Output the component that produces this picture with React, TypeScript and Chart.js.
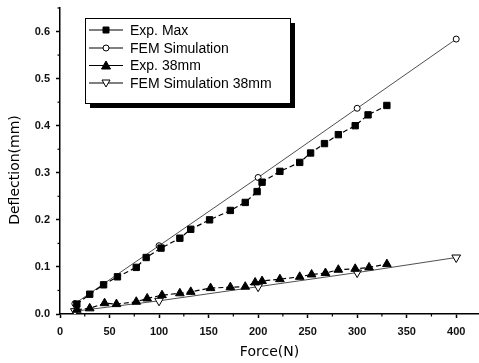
import React, { useEffect, useRef } from "react";
import { Chart, registerables } from "chart.js";

Chart.register(...registerables);

const forceExpMax = [17, 30, 44, 58, 77, 87, 102, 121, 132, 151, 172, 187, 199, 204, 222, 242, 253, 267, 281, 298, 311, 330];
const deflExpMax = [0.021, 0.042, 0.062, 0.079, 0.099, 0.12, 0.14, 0.161, 0.18, 0.2, 0.22, 0.237, 0.26, 0.28, 0.303, 0.322, 0.342, 0.362, 0.381, 0.4, 0.423, 0.443];

const forceFem = [15, 100, 200, 300, 400];
const deflFem = [0.022, 0.145, 0.29, 0.437, 0.584];

const forceExp38 = [17, 30, 45, 57, 77, 88, 103, 121, 132, 152, 172, 187, 197, 204, 222, 242, 254, 268, 281, 298, 312, 330];
const deflExp38 = [0.009, 0.012, 0.023, 0.021, 0.026, 0.033, 0.04, 0.044, 0.047, 0.055, 0.057, 0.058, 0.067, 0.07, 0.074, 0.079, 0.084, 0.087, 0.094, 0.096, 0.099, 0.106];

const forceFem38 = [15, 100, 200, 300, 400];
const deflFem38 = [0.006, 0.028, 0.058, 0.088, 0.12];

const seriesLabels = ["Exp. Max", "FEM Simulation", "Exp. 38mm", "FEM Simulation 38mm"];
const xTitle = "Force(N)";
const yTitle = "Deflection(mm)";
const xTicks = [0, 50, 100, 150, 200, 250, 300, 350, 400];
const yTicks = [0, 0.1, 0.2, 0.3, 0.4, 0.5, 0.6];
const xMinorTicks = [25, 75, 125, 175, 225, 275, 325, 375, 425];
const yMinorTicks = [0.05, 0.15, 0.25, 0.35, 0.45, 0.55, 0.65];

const pts = (xs: number[], ys: number[]) => xs.map((x, i) => ({ x, y: ys[i] }));

function drawMarker(ctx: CanvasRenderingContext2D, style: string, x: number, y: number, fill: string) {
  ctx.save();
  ctx.lineWidth = 1;
  ctx.strokeStyle = "#000";
  ctx.fillStyle = fill;
  ctx.beginPath();
  if (style === "rect") {
    ctx.rect(x - 3, y - 3, 6, 6);
  } else if (style === "circle") {
    ctx.arc(x, y, 3, 0, Math.PI * 2);
  } else if (style === "triangle") {
    ctx.moveTo(x, y - 4.5);
    ctx.lineTo(x + 4.5, y + 3.5);
    ctx.lineTo(x - 4.5, y + 3.5);
    ctx.closePath();
  } else {
    ctx.moveTo(x, y + 4);
    ctx.lineTo(x + 4, y - 3);
    ctx.lineTo(x - 4, y - 3);
    ctx.closePath();
  }
  ctx.fill();
  ctx.stroke();
  ctx.restore();
}

const legendStyles = [
  { style: "rect", fill: "#000" },
  { style: "circle", fill: "#fff" },
  { style: "triangle", fill: "#000" },
  { style: "down", fill: "#fff" },
];

const titleFontCss = "14px 'DejaVu Sans', sans-serif";

const customPlugin = {
  id: "custom",
  afterDraw(chart: any) {
    const ctx: CanvasRenderingContext2D = chart.ctx;
    const xs = chart.scales.x;
    const ys = chart.scales.y;
    ctx.save();
    ctx.strokeStyle = "#000";
    ctx.lineWidth = 1.2;
    xMinorTicks.forEach((v) => {
      if (v > xs.max) return;
      const px = xs.getPixelForValue(v);
      ctx.beginPath();
      ctx.moveTo(px, ys.bottom);
      ctx.lineTo(px, ys.bottom + 2.5);
      ctx.stroke();
    });
    yMinorTicks.forEach((v) => {
      if (v > ys.max) return;
      const py = ys.getPixelForValue(v);
      ctx.beginPath();
      ctx.moveTo(xs.left, py);
      ctx.lineTo(xs.left - 2.5, py);
      ctx.stroke();
    });
    // y axis title
    ctx.save();
    ctx.translate(15, 170);
    ctx.rotate(-Math.PI / 2);
    ctx.font = titleFontCss;
    ctx.fillStyle = "#000";
    ctx.textAlign = "center";
    ctx.textBaseline = "middle";
    ctx.fillText(yTitle, 0, 0);
    ctx.restore();
    // legend box
    const bx = 85, by = 18, bw = 205, bh = 85;
    ctx.fillStyle = "#fff";
    ctx.fillRect(bx, by, bw, bh);
    ctx.fillStyle = "#000";
    ctx.fillRect(bx + 5, by + bh, bw, 5);
    ctx.fillRect(bx + bw, by + 5, 5, bh);
    ctx.lineWidth = 1;
    ctx.strokeRect(bx + 0.5, by + 0.5, bw, bh);
    const rows = [30, 48, 65.5, 83];
    ctx.font = "14px 'Liberation Sans', Arial, sans-serif";
    ctx.textBaseline = "middle";
    ctx.textAlign = "left";
    chart.data.datasets.forEach((ds: any, i: number) => {
      const y = rows[i];
      ctx.strokeStyle = "#000";
      ctx.lineWidth = 1.2;
      ctx.beginPath();
      ctx.moveTo(89, y);
      ctx.lineTo(123, y);
      ctx.stroke();
      drawMarker(ctx, legendStyles[i].style, 106, y, legendStyles[i].fill);
      ctx.fillStyle = "#000";
      ctx.fillText(ds.label, 130, y + 1);
    });
    ctx.restore();
  },
};

const tickFont = { family: "'Liberation Sans', Arial, sans-serif", size: 11, weight: "bold" as const };
const titleFont = { family: "'DejaVu Sans', sans-serif", size: 14 };

export default function App() {
  const ref = useRef<HTMLCanvasElement | null>(null);
  useEffect(() => {
    if (!ref.current) return;
    const chart = new Chart(ref.current, {
      type: "scatter",
      data: {
        datasets: [
          {
            label: seriesLabels[0],
            data: pts(forceExpMax, deflExpMax),
            showLine: true,
            borderColor: "#000",
            borderWidth: 1.2,
            borderDash: [5, 3],
            backgroundColor: "#000",
            pointStyle: "rect",
            pointRadius: 4.5,
            pointBorderWidth: 1,
          },
          {
            label: seriesLabels[1],
            data: pts(forceFem, deflFem),
            showLine: true,
            borderColor: "#222",
            borderWidth: 0.8,
            backgroundColor: "#fff",
            pointBorderColor: "#000",
            pointStyle: "circle",
            pointRadius: 3,
            pointBorderWidth: 1,
          },
          {
            label: seriesLabels[2],
            data: pts(forceExp38, deflExp38),
            showLine: true,
            borderColor: "#000",
            borderWidth: 1.2,
            borderDash: [5, 3],
            backgroundColor: "#000",
            pointStyle: "triangle",
            pointRadius: 5,
            pointBorderWidth: 1,
          },
          {
            label: seriesLabels[3],
            data: pts(forceFem38, deflFem38),
            showLine: true,
            borderColor: "#222",
            borderWidth: 0.8,
            backgroundColor: "#fff",
            pointBorderColor: "#000",
            pointStyle: "triangle",
            pointRotation: 180,
            pointRadius: 5,
            pointBorderWidth: 1,
          },
        ],
      },
      options: {
        animation: false,
        responsive: false,
        layout: { autoPadding: false, padding: { top: 8, right: 0, left: 0, bottom: 0 } },
        plugins: { legend: { display: false }, tooltip: { enabled: false } },
        scales: {
          x: {
            type: "linear",
            min: 0,
            max: 423,
            border: { color: "#000", width: 1.5 },
            grid: { drawOnChartArea: false, drawTicks: true, tickLength: 4, tickColor: "#000", tickWidth: 1.5 },
            ticks: { color: "#111", font: tickFont, padding: 7, maxRotation: 0, autoSkip: false },
            afterBuildTicks: (scale: any) => {
              scale.ticks = xTicks.map((v) => ({ value: v }));
            },
            afterFit: (scale: any) => {
              scale.height = 49;
              scale.paddingLeft = 0;
              scale.paddingRight = 0;
            },
            title: { display: true, text: xTitle, color: "#000", font: titleFont, padding: { top: 0, bottom: 2 } },
          },
          y: {
            type: "linear",
            min: 0,
            max: 0.65,
            border: { color: "#000", width: 1.5 },
            grid: { drawOnChartArea: false, drawTicks: true, tickLength: 4, tickColor: "#000", tickWidth: 1.5 },
            ticks: {
              color: "#111",
              font: tickFont,
              padding: 6,
              autoSkip: false,
              callback: (v: any) => Number(v).toFixed(1),
            },
            afterBuildTicks: (scale: any) => {
              scale.ticks = yTicks.map((v) => ({ value: v }));
            },
            afterFit: (scale: any) => {
              scale.width = 60;
              scale.paddingTop = 0;
              scale.paddingBottom = 0;
            },
            title: { display: false, text: yTitle },
          },
        },
      },
      plugins: [customPlugin],
    } as any);
    return () => chart.destroy();
  }, []);
  return (
    <div style={{ position: "fixed", left: 0, top: 0, width: 479, height: 363, background: "#fff" }}>
      <canvas ref={ref} width={479} height={363} style={{ width: 479, height: 363 }} />
    </div>
  );
}
